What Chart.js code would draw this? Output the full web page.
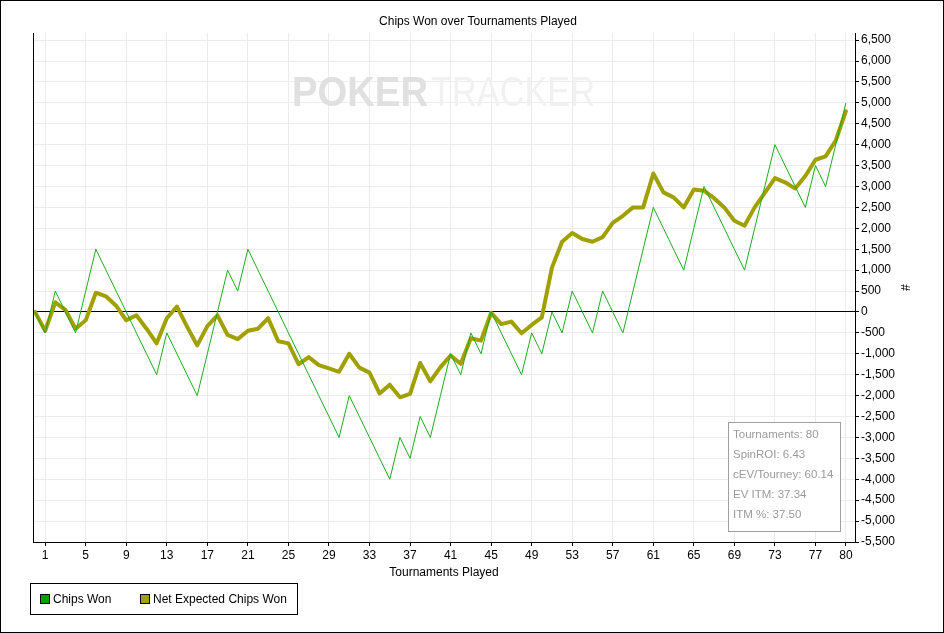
<!DOCTYPE html>
<html><head><meta charset="utf-8">
<script src="https://cdn.jsdelivr.net/npm/chart.js@4.4.1/dist/chart.umd.min.js"></script>
<style>html,body{margin:0;padding:0;background:#fff}canvas{display:block}</style>
</head><body>
<canvas id="c" width="944" height="633"></canvas>
<script>
const tournaments = Array.from({length: 81}, (_, i) => i);
const chipsWon = [0,-500,500,0,-500,500,1500,1000,500,0,-500,-1000,-1500,-500,-1000,-1500,-2000,-1000,0,1000,500,1500,1000,500,0,-500,-1000,-1500,-2000,-2500,-3000,-2000,-2500,-3000,-3500,-4000,-3000,-3500,-2500,-3000,-2000,-1000,-1500,-500,-1000,0,-500,-1000,-1500,-500,-1000,0,-500,500,0,-500,500,0,-500,500,1500,2500,2000,1500,1000,2000,3000,2500,2000,1500,1000,2000,3000,4000,3500,3000,2500,3500,3000,4000,5000];
const netExpected = [0,-450,230,50,-400,-200,460,375,150,-200,-80,-400,-750,-150,130,-350,-800,-340,-80,-550,-650,-450,-400,-150,-700,-750,-1250,-1080,-1270,-1350,-1430,-1000,-1330,-1450,-1950,-1740,-2040,-1960,-1220,-1660,-1320,-1040,-1240,-630,-685,-20,-290,-230,-510,-310,-130,1060,1680,1890,1745,1680,1790,2130,2300,2500,2500,3310,2860,2740,2500,2930,2900,2720,2500,2180,2060,2500,2850,3200,3100,2950,3250,3640,3720,4100,4800];
const xTickValues = [1,5,9,13,17,21,25,29,33,37,41,45,49,53,57,61,65,69,73,77,80];
const yTickValues = [-5500,-5000,-4500,-4000,-3500,-3000,-2500,-2000,-1500,-1000,-500,0,500,1000,1500,2000,2500,3000,3500,4000,4500,5000,5500,6000,6500];
const seriesNames = ['Chips Won', 'Net Expected Chips Won'];
const statsLines = ['Tournaments: 80', 'SpinROI: 6.43', 'cEV/Tourney: 60.14', 'EV ITM: 37.34', 'ITM %: 37.50'];
const titleText = 'Chips Won over Tournaments Played';
const xTitle = 'Tournaments Played';
const yTitle = '#';

const FAM = '"Liberation Sans", Arial, sans-serif';
const GREEN = 'rgb(28,172,28)';
const OLIVE = 'rgb(160,160,0)';

const decor = {
  id: 'decor',
  beforeDatasetsDraw(chart) {
    const ctx = chart.ctx;
    ctx.save();
    ctx.textBaseline = 'alphabetic';
    ctx.font = 'bold 42px ' + FAM;
    let w = ctx.measureText('POKER').width;
    ctx.save();
    ctx.translate(292, 106); ctx.scale(136 / w, 1);
    ctx.fillStyle = '#e0e0e0'; ctx.fillText('POKER', 0, 0);
    ctx.restore();
    ctx.font = '42px ' + FAM;
    w = ctx.measureText('TRACKER').width;
    ctx.save();
    ctx.translate(431, 106); ctx.scale(164 / w, 1);
    ctx.fillStyle = '#f1f1f1'; ctx.fillText('TRACKER', 0, 0);
    ctx.restore();
    ctx.restore();
  },
  afterDraw(chart) {
    const ctx = chart.ctx;
    const a = chart.chartArea;
    ctx.save();
    ctx.strokeStyle = '#000'; ctx.lineWidth = 1;
    ctx.beginPath(); ctx.moveTo(Math.round(a.left) + 0.5, a.top); ctx.lineTo(Math.round(a.left) + 0.5, a.bottom); ctx.stroke();
    ctx.fillStyle = '#fff';
    ctx.fillRect(728.5, 422.5, 112, 109);
    ctx.strokeStyle = '#a0a0a0';
    ctx.strokeRect(728.5, 422.5, 112, 109);
    ctx.fillStyle = '#9a9a9a';
    ctx.font = '11.5px ' + FAM;
    ctx.textBaseline = 'middle'; ctx.textAlign = 'left';
    statsLines.forEach((t, i) => ctx.fillText(t, 733, 435 + i * 20));
    ctx.font = '12px ' + FAM;
    ctx.fillStyle = '#000';
    ctx.textAlign = 'center';
    ctx.fillText(titleText, 478, 22);
    ctx.textAlign = 'left';
    ctx.strokeStyle = '#000';
    ctx.strokeRect(30.5, 583.5, 267, 31);
    const items = [{x: 40, c: 'rgb(0,160,0)'}, {x: 140, c: 'rgb(160,160,16)'}];
    items.forEach((it, i) => {
      ctx.fillStyle = it.c;
      ctx.fillRect(it.x, 594, 10, 10);
      ctx.strokeStyle = '#000';
      ctx.strokeRect(it.x + 0.5, 594.5, 9, 9);
      ctx.fillStyle = '#000';
      ctx.fillText(seriesNames[i], it.x + 13, 599.5);
    });
    ctx.strokeStyle = '#000';
    ctx.strokeRect(0.5, 0.5, 943, 632);
    ctx.restore();
  }
};

new Chart(document.getElementById('c'), {
  type: 'line',
  data: {
    labels: tournaments,
    datasets: [
      {label: seriesNames[0], data: chipsWon, borderColor: GREEN, borderWidth: 1, pointRadius: 0, tension: 0, fill: false},
      {label: seriesNames[1], data: netExpected, borderColor: OLIVE, borderWidth: 4, pointRadius: 0, tension: 0, fill: false, borderJoinStyle: 'round', borderCapStyle: 'round'}
    ]
  },
  options: {
    responsive: false, animation: false, devicePixelRatio: 1,
    layout: {padding: {left: 33, top: 33, right: 0, bottom: 51}},
    plugins: {legend: {display: false}, title: {display: false}, tooltip: {enabled: false}},
    events: [],
    scales: {
      x: {
        type: 'linear', min: -0.2, max: 80.9,
        afterBuildTicks: s => { s.ticks = xTickValues.map(v => ({value: v})); },
        afterFit: s => { s.height = 40; },
        grid: {color: '#ececec', tickColor: '#000', tickLength: 4},
        border: {color: '#000'},
        ticks: {font: {family: FAM, size: 12}, color: '#000', padding: 2, maxRotation: 0, autoSkip: false},
        title: {display: true, text: xTitle, color: '#000', font: {family: FAM, size: 12}, padding: {top: 0, bottom: 2}}
      },
      y: {
        type: 'linear', position: 'right', min: -5500, max: 6670,
        afterBuildTicks: s => { s.ticks = yTickValues.map(v => ({value: v})); },
        afterFit: s => { s.width = 89; },
        grid: {color: c => (c.tick && c.tick.value === 0) ? '#000' : '#ececec', tickColor: '#000', tickLength: 4},
        border: {color: '#000'},
        ticks: {font: {family: FAM, size: 12}, color: '#000', padding: 2, autoSkip: false,
                callback: v => v.toLocaleString('en-US')},
        title: {display: true, text: yTitle, color: '#000', font: {family: FAM, size: 12}, padding: {top: 32, bottom: 0}}
      }
    }
  },
  plugins: [decor]
});
</script>
</body></html>
